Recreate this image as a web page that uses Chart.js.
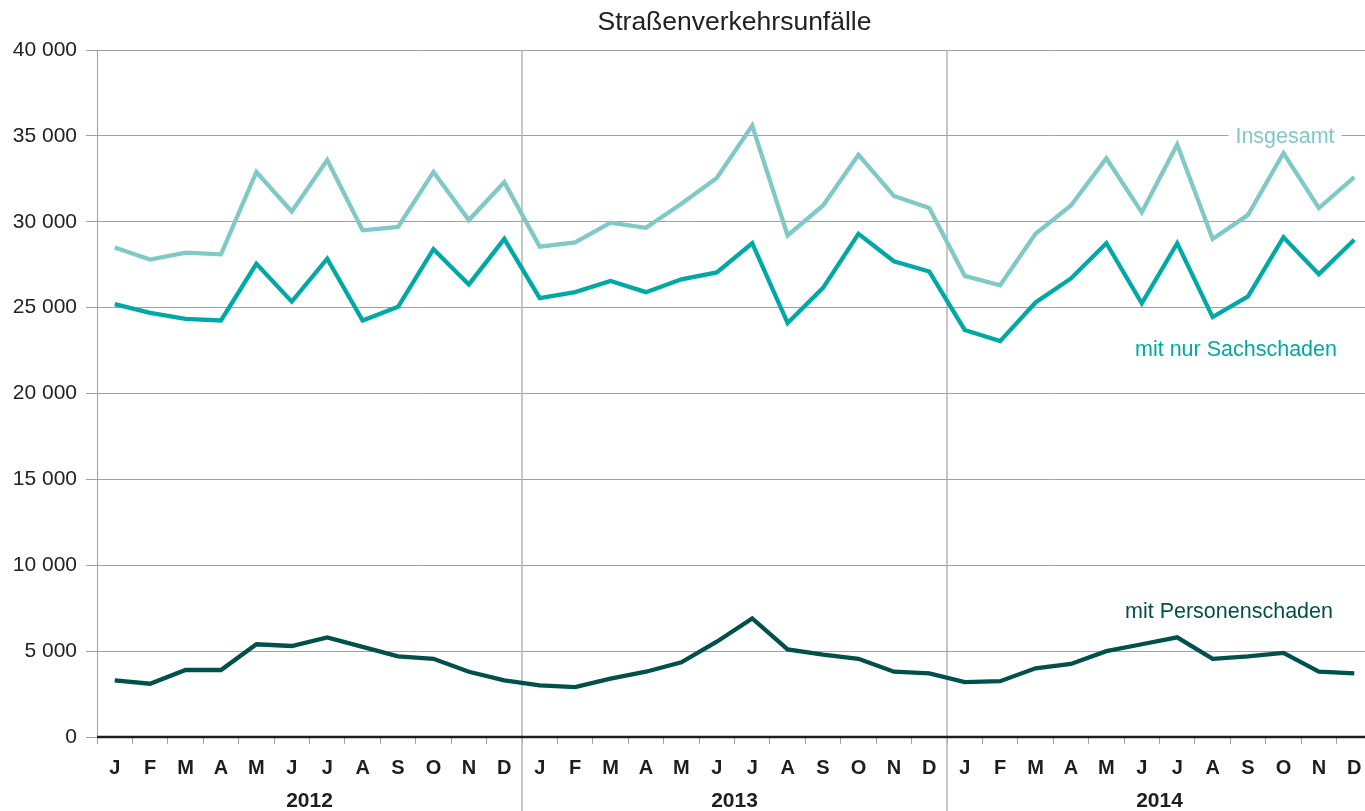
<!DOCTYPE html>
<html>
<head>
<meta charset="utf-8">
<script src="https://cdn.jsdelivr.net/npm/chart.js@4"></script>
<style>
html,body{margin:0;padding:0;background:#fff;overflow:hidden;}
#wrap{width:1375px;height:811px;position:relative;}
</style>
</head>
<body>
<div id="wrap"><canvas id="c" width="1375" height="811"></canvas></div>
<script>
const months = ['J','F','M','A','M','J','J','A','S','O','N','D'];
const years = ['2012','2013','2014'];
const title = 'Straßenverkehrsunfälle';
const seriesNames = ['Insgesamt','mit nur Sachschaden','mit Personenschaden'];
const insgesamt = [28500,27800,28200,28100,32900,30600,33600,29500,29700,32900,30100,32300,
                   28550,28800,29950,29650,31050,32550,35600,29200,30950,33900,31500,30800,
                   26850,26300,29300,30950,33700,30550,34500,29000,30400,34000,30800,32600];
const sachschaden = [25200,24700,24350,24250,27550,25350,27850,24250,25050,28400,26350,29000,
                     25550,25900,26550,25900,26650,27050,28750,24100,26150,29300,27700,27100,
                     23700,23050,25300,26700,28750,25250,28750,24450,25650,29100,26950,28950];
const personenschaden = [3300,3100,3900,3900,5400,5300,5800,5250,4700,4550,3800,3300,
                         3000,2900,3400,3800,4350,5550,6900,5100,4800,4550,3800,3700,
                         3200,3250,4000,4250,5000,5400,5800,4550,4700,4900,3800,3700];
const yTicks = [0,5000,10000,15000,20000,25000,30000,35000,40000];

const labels = [];
years.forEach(y => months.forEach(m => labels.push(m)));

const FONT = '"Liberation Sans", Arial, sans-serif';
const C_INS = '#7fc9c7';
const C_SACH = '#00a8a6';
const C_PERS = '#00504b';

const overlay = {
  id: 'overlay',
  beforeDatasetsDraw(chart) {
    const ctx = chart.ctx, x = chart.scales.x, y = chart.scales.y, a = chart.chartArea;
    ctx.save();
    // year separators
    ctx.strokeStyle = '#b5b5b5';
    ctx.lineWidth = 1.5;
    for (let k = 1; k < years.length; k++) {
      const px = Math.round((x.getPixelForValue(k*12-1) + x.getPixelForValue(k*12)) / 2);
      ctx.beginPath(); ctx.moveTo(px, a.top); ctx.lineTo(px, chart.height); ctx.stroke();
    }
    // series labels
    ctx.font = '21.5px ' + FONT;
    ctx.textAlign = 'center';
    ctx.textBaseline = 'middle';
    const yi = y.getPixelForValue(35000);
    const wIns = ctx.measureText(seriesNames[0]).width;
    ctx.fillStyle = '#fff';
    ctx.fillRect(1285 - wIns/2 - 7, yi - 11, wIns + 14, 22);
    ctx.fillStyle = C_INS;
    ctx.fillText(seriesNames[0], 1285, yi + 1);
    ctx.fillStyle = C_SACH;
    ctx.fillText(seriesNames[1], 1236, y.getPixelForValue(22550));
    ctx.fillStyle = C_PERS;
    ctx.fillText(seriesNames[2], 1229, y.getPixelForValue(7250));
    ctx.restore();
  },
  afterDraw(chart) {
    const ctx = chart.ctx, x = chart.scales.x, y = chart.scales.y, a = chart.chartArea;
    ctx.save();
    // zero axis line
    ctx.strokeStyle = '#1e1e1e';
    ctx.lineWidth = 2.5;
    const y0 = y.getPixelForValue(0);
    ctx.beginPath(); ctx.moveTo(a.left, y0); ctx.lineTo(a.right, y0); ctx.stroke();
    // year labels
    ctx.fillStyle = '#1e1e1e';
    ctx.font = 'bold 21px ' + FONT;
    ctx.textAlign = 'center';
    ctx.textBaseline = 'middle';
    years.forEach((yr, k) => {
      const cx = (x.getPixelForValue(k*12) + x.getPixelForValue(k*12+11)) / 2;
      ctx.fillText(yr, cx, 801);
    });
    // title
    ctx.font = '26.5px ' + FONT;
    ctx.fillStyle = '#222';
    ctx.fillText(title, (a.left + a.right) / 2, 23);
    ctx.restore();
  }
};

new Chart(document.getElementById('c'), {
  type: 'line',
  data: {
    labels: labels,
    datasets: [
      {label: seriesNames[0], data: insgesamt, borderColor: C_INS, borderWidth: 4.3, pointRadius: 0, tension: 0, borderJoinStyle: 'miter', fill: false},
      {label: seriesNames[1], data: sachschaden, borderColor: C_SACH, borderWidth: 4.3, pointRadius: 0, tension: 0, borderJoinStyle: 'miter', fill: false},
      {label: seriesNames[2], data: personenschaden, borderColor: C_PERS, borderWidth: 4.3, pointRadius: 0, tension: 0, borderJoinStyle: 'miter', fill: false}
    ]
  },
  options: {
    responsive: false,
    animation: false,
    devicePixelRatio: 1,
    layout: {padding: {top: 50, right: 3, left: 0, bottom: 0}},
    plugins: {legend: {display: false}, tooltip: {enabled: false}, title: {display: false}},
    scales: {
      x: {
        type: 'category',
        offset: true,
        grid: {offset: true, drawOnChartArea: false, drawTicks: true, tickLength: 7, color: '#a0a0a0', lineWidth: 1},
        border: {display: false},
        ticks: {font: {family: FONT, size: 20, weight: 'bold'}, color: '#1e1e1e', padding: 12, maxRotation: 0, autoSkip: false},
        afterFit: s => { s.height = 74; }
      },
      y: {
        min: 0, max: 40000,
        afterBuildTicks: s => { s.ticks = yTicks.map(v => ({value: v})); },
        grid: {color: '#a0a0a0', lineWidth: 1, tickLength: 11},
        border: {display: true, color: '#a0a0a0', width: 1},
        ticks: {
          font: {family: FONT, size: 21}, color: '#222', padding: 9,
          callback: v => v === 0 ? '0' : (Math.floor(v/1000) + ' ' + String(v%1000).padStart(3,'0'))
        },
        afterFit: s => { s.width = 97; }
      }
    }
  },
  plugins: [overlay]
});
</script>
</body>
</html>
